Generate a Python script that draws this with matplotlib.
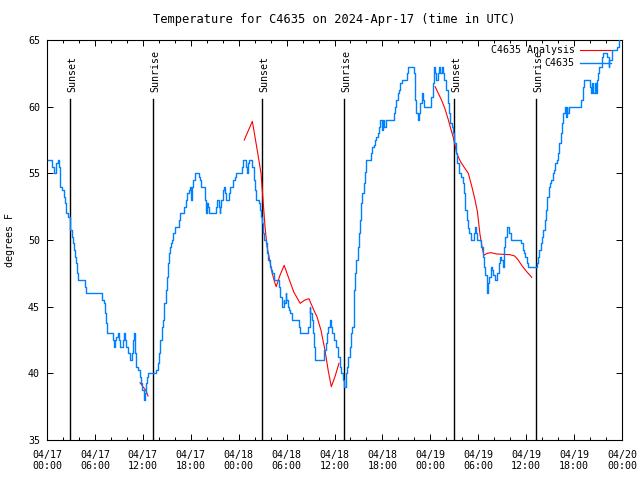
import matplotlib
matplotlib.use("Agg")
import matplotlib.pyplot as plt
from datetime import datetime, timedelta

# hours since 2024-04-17 00:00 UTC
startTime = datetime(2024, 4, 17, 0, 0)

obsHours = [0.17, 0.67, 0.92, 1.17, 1.33, 1.5, 1.58, 1.67, 1.92, 2.08, 2.25, 2.42, 2.67, 2.83, 2.92,
            3.08, 3.25, 3.42, 3.5, 3.67, 3.75, 3.92, 4.75, 4.92, 6.93, 7.1, 7.25, 7.42, 7.5, 8.26,
            8.43, 8.5, 8.68, 8.85, 9.0, 9.18, 9.52, 9.6, 9.77, 9.93, 10.18, 10.35, 10.68, 10.77, 10.85,
            11.0, 11.18, 11.35, 11.6, 11.77, 11.94, 12.1, 12.27, 12.44, 12.52, 12.7, 13.69, 13.86, 14.02,
            14.19, 14.36, 14.52, 14.69, 14.86, 15.03, 15.19, 15.3, 15.45, 15.55, 15.65, 15.8, 16.07,
            16.57, 16.7, 17.2, 17.4, 17.57, 17.74, 17.9, 17.98, 18.07, 18.15, 18.32, 18.57, 19.0, 19.16,
            19.33, 19.8, 19.95, 20.03, 20.12, 20.3, 21.15, 21.3, 21.5, 21.66, 21.7, 21.83, 22.0, 22.15,
            22.33, 22.4, 22.75, 22.9, 23.33, 23.5, 23.66, 24.46, 24.6, 24.95, 25.1, 25.2, 25.35, 25.7,
            25.87, 26.04, 26.2, 26.53, 26.7, 26.8, 26.88, 27.05, 27.13, 27.38, 27.55, 27.7, 27.87, 28.04,
            28.2, 28.38, 29.05, 29.2, 29.38, 29.63, 29.72, 29.88, 29.97, 30.13, 30.3, 30.47, 30.63, 31.55,
            31.72, 32.72, 32.88, 32.97, 33.13, 33.3, 33.47, 33.6, 34.72, 34.9, 35.06, 35.22, 35.39, 35.55,
            35.73, 35.97, 36.14, 36.39, 36.64, 36.81, 37.06, 37.23, 37.4, 37.56, 37.73, 37.9, 38.06, 38.23,
            38.4, 38.49, 38.6, 38.75, 38.9, 39.05, 39.2, 39.35, 39.5, 39.66, 39.8, 39.95, 40.6, 40.74,
            40.9, 41.07, 41.24, 41.4, 41.57, 41.74, 41.9, 42.07, 42.24, 42.4, 43.4, 43.58, 43.75, 43.9,
            44.08, 44.25, 44.42, 45.08, 45.25, 45.92, 46.08, 46.25, 46.42, 46.58, 46.75, 46.92, 47.08,
            47.25, 48.1, 48.34, 48.5, 48.6, 48.75, 48.92, 49.09, 49.25, 49.42, 49.59, 49.76, 50.0, 50.17,
            50.34, 50.5, 50.67, 50.84, 51.0, 51.17, 51.38, 51.63, 51.88, 52.05, 52.21, 52.38, 52.55,
            52.71, 52.88, 53.05, 53.47, 53.63, 53.72, 53.88, 54.38, 54.55, 54.72, 54.88, 55.05, 55.13,
            55.22, 55.39, 55.55, 55.72, 55.89, 56.05, 56.39, 56.55, 56.72, 56.89, 57.05, 57.22, 57.39,
            57.56, 57.89, 58.06, 59.39, 59.56, 59.73, 59.89, 60.06, 60.23, 61.31, 61.48, 61.65, 61.81,
            61.98, 62.15, 62.31, 62.48, 62.65, 62.81, 62.98, 63.15, 63.31, 63.48, 63.65, 63.82, 63.98,
            64.15, 64.32, 64.49, 64.65, 64.82, 64.99, 65.07, 65.15, 65.32, 65.49, 66.91, 67.07, 67.24,
            67.41, 68.0, 68.16, 68.24, 68.41, 68.58, 68.74, 68.83, 69.0, 69.16, 69.33, 69.5, 69.66, 70.16,
            70.33, 70.41, 70.75, 71.41, 71.58, 72.0]
obsTemps = [56, 55.5, 55, 55.75, 56, 55.5, 54.5, 54, 53.75, 53.25, 52.75, 52, 51.75, 51.25, 50.75,
            50.25, 49.75, 49.25, 48.75, 48.25, 47.5, 47, 46.5, 46, 45.5, 45.25, 44.5, 43.75, 43, 42.5,
            42, 42.5, 42.75, 43, 42.5, 42, 42.5, 43, 42.5, 42, 41.5, 41, 41.5, 42.5, 43,
            41.5, 40.5, 40.25, 39.75, 39.25, 38.75, 38, 38.5, 39.25, 39.75, 40, 40.25, 40.75, 41.5,
            42.5, 43.5, 44, 45.25, 46.25, 47.25, 48.25, 49, 49.5, 49.75, 50, 50.5, 51,
            51.5, 52, 52.5, 53, 53.5, 53.75, 54, 53.5, 53, 54, 54.5, 55, 54.75, 54.5,
            54, 53, 52, 52.75, 52.5, 52, 52.5, 53, 52.5, 52, 52.5, 53, 53.75, 54,
            53.5, 53, 53.5, 54, 54.5, 54.75, 55, 55.5, 56, 55.5, 55, 55.75, 56, 55.5,
            54.5, 53.75, 53, 52.75, 52.25, 51.75, 51.25, 50.5, 50, 49.75, 49, 48.5, 48, 47.75,
            47.5, 47, 46.5, 45.75, 45, 45.5, 45.25, 46, 45.5, 45, 44.75, 44.5, 44, 43.5,
            43, 43.5, 45, 44.5, 44, 43, 42, 41, 41.75, 42.25, 43, 43.5, 44, 43.5,
            43, 42.5, 42, 41.25, 40.5, 40, 39.5, 39, 40, 40.5, 41.25, 42, 43, 43.5,
            45, 46.25, 47.5, 48.5, 49.5, 50.5, 51.5, 52.75, 53.5, 54.25, 55.1, 56, 56.5, 57,
            57.1, 57.5, 57.75, 58, 58.5, 59, 58.25, 59, 58.5, 59, 59.5, 60, 60.5, 61,
            61.25, 61.75, 62, 62.5, 63, 62.5, 60.5, 59.5, 59, 59.5, 60.25, 61, 60.5,
            60, 60.75, 61.75, 63, 62.5, 62, 62.5, 63, 62.5, 63, 62.5, 62, 61.25, 60.25,
            59.5, 58.75, 58.5, 58, 57.25, 56.5, 55.75, 55, 54.75, 54.25, 53.5, 52.25, 51.5,
            50.9, 50.5, 50, 50.5, 51, 50.5, 50, 49.5, 48.75, 48, 47.4, 46.6, 46,
            46.75, 47.25, 48, 47.75, 47.4, 47, 47.5, 48.25, 48.75, 48.5, 48, 49.5, 50.25,
            51, 50.5, 50, 49.75, 49.25, 49, 48.75, 48.25, 48, 48.25, 48.75, 49.25, 49.75,
            50.25, 50.75, 51.5, 52.25, 53.25, 54, 54.25, 54.5, 55, 55.25, 55.75, 56, 56.5,
            57.25, 58, 58.75, 59.5, 60, 59.25, 60, 59.5, 60, 60, 60.5, 61.5, 62,
            62, 61.5, 61, 61.75, 61, 61.75, 61, 62, 62.5, 63, 63, 63.75, 64, 63.75,
            63, 63.5, 64.25, 64.5, 65.5, 65.5]

# analysis runs (three separate pieces)
analysisHours1 = [11.65, 12.0, 12.35, 12.65]
analysisTemps1 = [39.3, 39.0, 38.75, 38.3]
analysisHours2 = [24.7, 25.71, 26.04, 26.46, 26.8, 27.05, 27.3, 27.55, 27.8, 28.2, 28.55, 28.7, 29.2,
                  29.7, 30.2, 30.9, 31.7, 32.3, 32.8, 33.4, 33.8, 34.3, 34.8, 35.2, 35.6, 36.06, 36.56]
analysisTemps2 = [57.5, 58.9, 57.75, 56.25, 55, 53, 51, 49.5, 48.75, 47.5, 46.75, 46.5, 47.4,
                  48.1, 47.25, 46.1, 45.25, 45.5, 45.6, 44.75, 44.25, 43.25, 41.75, 40.25, 39.0, 39.75, 40.75]
analysisHours3 = [48.6, 49.4, 49.8, 50.26, 50.6, 50.85, 51.1, 51.3, 51.76, 52.3, 52.76, 53.2, 53.6,
                  53.9, 54.2, 54.47, 54.7, 55.1, 55.6, 56.3, 57.97, 58.56, 59.0, 59.5, 60.1, 60.7]
analysisTemps3 = [61.5, 60.5, 59.9, 59, 58.25, 57.75, 57.1, 56.5, 55.9, 55.4, 55, 54, 53,
                  52.1, 50.5, 49.5, 48.85, 49.0, 49.05, 48.95, 48.9, 48.8, 48.5, 48.05, 47.6, 47.2]

sunHours = [2.92, 13.31, 26.96, 37.23, 51.0, 61.27]
sunLabels = ["Sunset", "Sunrise", "Sunset", "Sunrise", "Sunset", "Sunrise"]

obsColor = "#0080ff"

plt.rcParams["font.family"] = "DejaVu Sans Mono"
plt.rcParams["font.size"] = 7.2

fig = plt.figure(figsize=(6.4, 4.8), dpi=100)
ax = fig.add_axes([47/640, 40/480, 575/640, 400/480])

for h, lab in zip(sunHours, sunLabels):
    ax.plot([h, h], [35, 60.6], color="black", lw=1.0, zorder=1)
    ax.text(h + 0.25, 61.1, lab, rotation=90, ha="center", va="bottom")

for hrs, tmp in [(analysisHours1, analysisTemps1), (analysisHours2, analysisTemps2), (analysisHours3, analysisTemps3)]:
    ax.plot(hrs, tmp, color="red", lw=0.8, zorder=2)
ax.step(obsHours, obsTemps, where="post", color=obsColor, lw=1.0, zorder=3)

ax.set_xlim(0, 72)
ax.set_ylim(35, 65)
majorTicks = list(range(0, 73, 6))
ax.set_xticks(majorTicks)
ax.set_xticklabels([(startTime + timedelta(hours=t)).strftime("%m/%d\n%H:%M") for t in majorTicks])
ax.set_xticks(range(0, 73, 2), minor=True)
ax.set_yticks(range(35, 66, 5))
ax.tick_params(which="both", direction="in", top=True, right=True, width=0.7)
ax.tick_params(which="major", length=4.3)
ax.tick_params(which="minor", length=2.2)
ax.tick_params(axis="x", pad=7)
ax.tick_params(axis="y", pad=5)
for sp in ax.spines.values():
    sp.set_linewidth(0.8)

ax.set_title("Temperature for C4635 on 2024-Apr-17 (time in UTC)", pad=12)
ax.set_ylabel("degrees F")
ax.yaxis.set_label_coords(-0.056, 0.5)

# key in the upper right, gnuplot style
ax.text(0.918, 0.975, "C4635 Analysis", transform=ax.transAxes, ha="right", va="center")
ax.plot([0.927, 0.981], [0.975, 0.975], transform=ax.transAxes, color="red", lw=0.8)
ax.text(0.918, 0.9425, "C4635", transform=ax.transAxes, ha="right", va="center")
ax.plot([0.927, 0.981], [0.9425, 0.9425], transform=ax.transAxes, color=obsColor, lw=1.0)

fig.savefig("out.png", dpi=100)
